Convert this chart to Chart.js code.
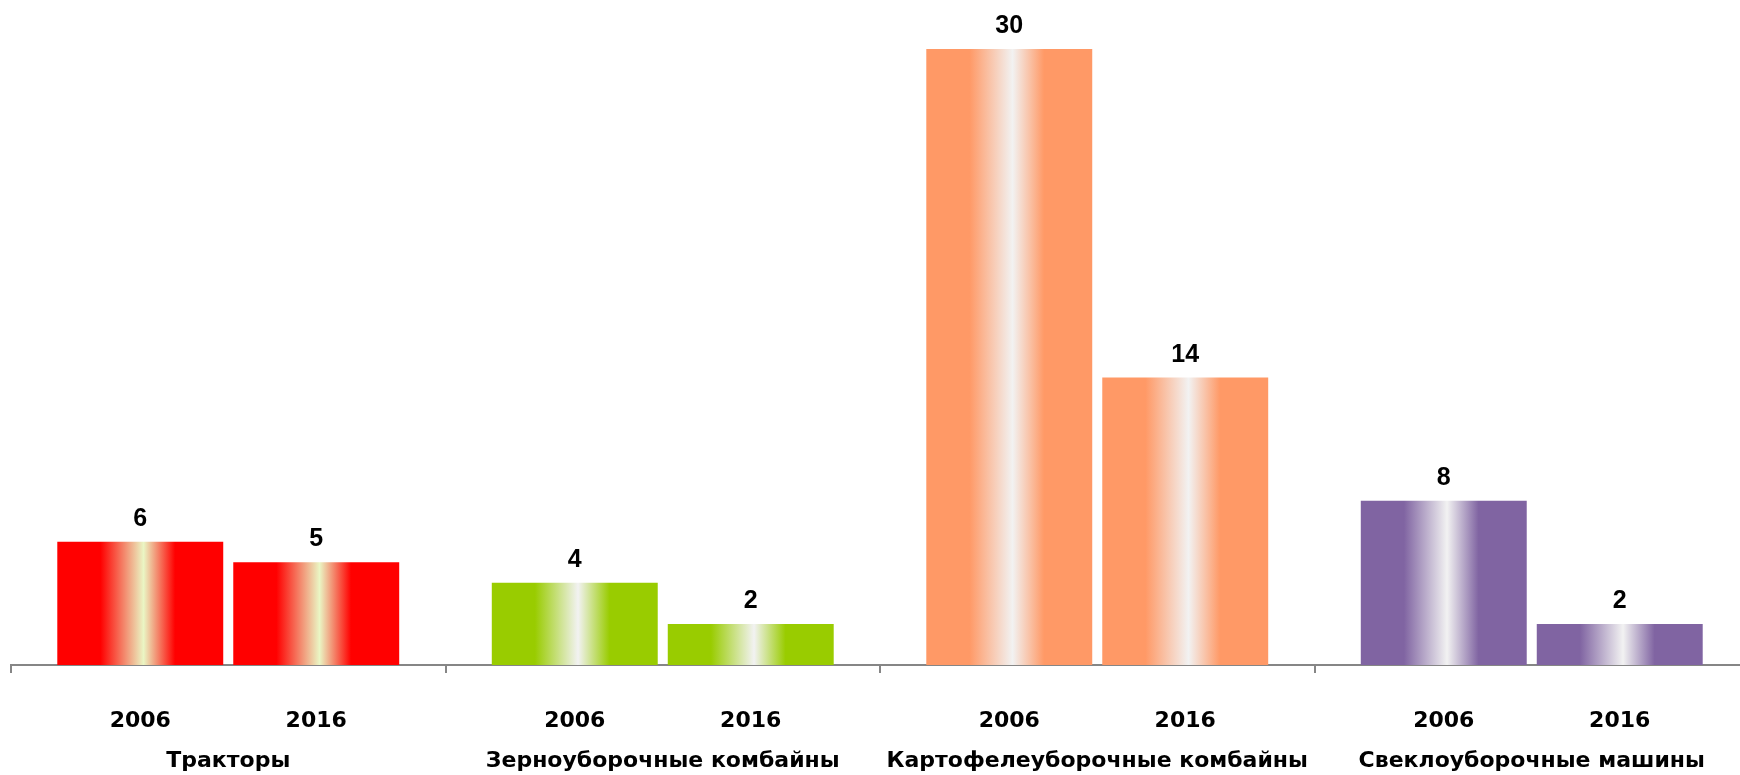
<!DOCTYPE html>
<html><head><meta charset="utf-8">
<script src="https://cdn.jsdelivr.net/npm/chart.js@4"></script>
<style>html,body{margin:0;padding:0;background:#fff;overflow:hidden;width:1740px;height:775px}canvas{display:block}</style>
</head><body><canvas id="c" width="1749" height="775" style="width:1749px;height:775px"></canvas>
<script>
const categories = ['Тракторы', 'Зерноуборочные комбайны', 'Картофелеуборочные комбайны', 'Свеклоуборочные машины'];
const years = ['2006', '2016'];
const values2006 = [6, 4, 30, 8];
const values2016 = [5, 2, 14, 2];
const baseColors = ['#FF0000', '#99CC00', '#FF9966', '#8064A2'];
const centerColors = ['#EAF6C4', '#F2F2F2', '#F2F2F2', '#F2F2F2'];

const FONT = '"Liberation Sans", Arial, sans-serif';
const AXIS_FONT = '"DejaVu Sans", "Liberation Sans", sans-serif';
const CAT_PCT = 0.81;
const BAR_PCT = 0.943;

function barFill(ctx) {
  const chart = ctx.chart;
  const i = ctx.dataIndex, d = ctx.datasetIndex;
  const base = baseColors[i];
  const xs = chart.scales && chart.scales.x;
  if (!xs || !chart.chartArea || !xs.width) return base;
  const catW = xs.width / categories.length;
  const slot = catW * CAT_PCT / 2;
  const w = slot * BAR_PCT;
  const cx = xs.getPixelForValue(i) + (d - 0.5) * slot;
  const g = chart.ctx.createLinearGradient(cx - w / 2, 0, cx + w / 2, 0);
  g.addColorStop(0, base);
  g.addColorStop(0.26, base);
  g.addColorStop(0.52, centerColors[i]);
  g.addColorStop(0.71, base);
  g.addColorStop(1, base);
  return g;
}

const labelsPlugin = {
  id: 'labelsPlugin',
  afterDatasetsDraw(chart) {
    const ctx = chart.ctx;
    ctx.save();
    ctx.fillStyle = '#000';
    ctx.textAlign = 'center';
    ctx.textBaseline = 'alphabetic';
    const yearY = chart.chartArea.bottom + 62;
    chart.data.datasets.forEach((ds, d) => {
      const meta = chart.getDatasetMeta(d);
      meta.data.forEach((el, i) => {
        ctx.font = 'bold 25px ' + FONT;
        ctx.fillText(String(ds.data[i]), el.x, el.y - 16);
        ctx.font = 'bold 22px ' + AXIS_FONT;
        ctx.fillText(ds.label, el.x, yearY);
      });
    });
    ctx.restore();
  }
};

new Chart(document.getElementById('c'), {
  type: 'bar',
  data: {
    labels: categories,
    datasets: [
      { label: years[0], data: values2006, backgroundColor: barFill, borderWidth: 0, categoryPercentage: CAT_PCT, barPercentage: BAR_PCT },
      { label: years[1], data: values2016, backgroundColor: barFill, borderWidth: 0, categoryPercentage: CAT_PCT, barPercentage: BAR_PCT }
    ]
  },
  options: {
    responsive: false,
    maintainAspectRatio: false,
    devicePixelRatio: 1,
    animation: false,
    layout: { padding: { left: 11, right: 0, top: 49, bottom: 2 } },
    plugins: { legend: { display: false }, tooltip: { enabled: false } },
    scales: {
      x: {
        offset: true,
        grid: { display: true, offset: true, drawOnChartArea: false, drawTicks: true, tickLength: 8, color: '#868686', lineWidth: 2 },
        border: { display: true, color: '#868686', width: 2 },
        ticks: { padding: 75, color: '#000', font: { family: AXIS_FONT, size: 22, weight: 'bold' }, maxRotation: 0, autoSkip: false },
        afterFit(scale) { scale.height = 108; scale.paddingLeft = 0; scale.paddingRight = 0; }
      },
      y: { display: false, min: 0, max: 30 }
    }
  },
  plugins: [labelsPlugin]
});
</script>
</body></html>
